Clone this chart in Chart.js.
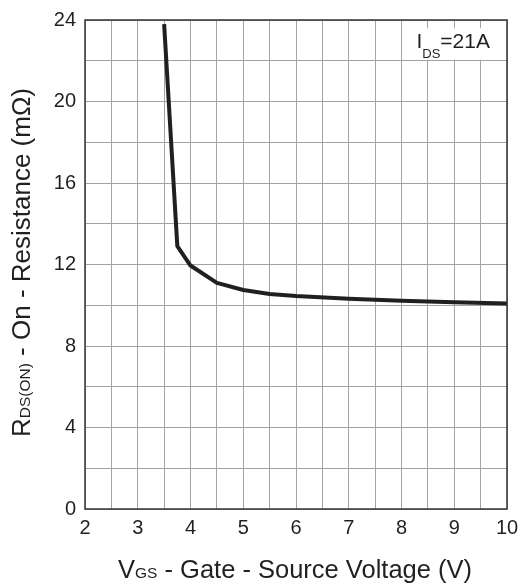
<!DOCTYPE html>
<html><head><meta charset="utf-8">
<script src="https://cdn.jsdelivr.net/npm/chart.js@4.4.1/dist/chart.umd.min.js"></script>
<style>html,body{margin:0;padding:0;background:#fff}#wrap{width:521px;height:585px}</style>
</head><body><div id="wrap"><canvas id="c" width="521" height="585"></canvas></div>
<script>
// Data
const vgs = [3.5, 3.75, 4, 4.5, 5, 5.5, 6, 7, 8, 9, 10];
const rdson = [23.8, 12.9, 11.95, 11.1, 10.75, 10.55, 10.45, 10.32, 10.22, 10.15, 10.08];
const xLabelValues = [2, 3, 4, 5, 6, 7, 8, 9, 10];
const yLabelValues = [0, 4, 8, 12, 16, 20, 24];
const xTitleParts = [['V', 'main'], ['GS', 'sub'], [' - Gate - Source Voltage (V)', 'main']];
const yTitleParts = [['R', 'main'], ['DS(ON)', 'sub'], [' - On - Resistance (m\u03A9)', 'main']];
const noteParts = [['I', 'main'], ['DS', 'sub'], ['=21A', 'main']];

const FONT = '"Liberation Sans", Arial, sans-serif';
const INK = '#231f20';

function drawParts(ctx, parts, cx, baseline, mainSize, subSize, subShift) {
  let total = 0;
  const w = parts.map(([t, k]) => {
    ctx.font = (k === 'main' ? mainSize : subSize) + 'px ' + FONT;
    const m = ctx.measureText(t).width; total += m; return m;
  });
  let x = cx - total / 2;
  parts.forEach(([t, k], i) => {
    ctx.font = (k === 'main' ? mainSize : subSize) + 'px ' + FONT;
    ctx.fillText(t, x, baseline + (k === 'sub' ? subShift : 0));
    x += w[i];
  });
}

const deco = {
  id: 'deco',
  beforeDatasetsDraw(chart) {
    const ctx = chart.ctx, xs = chart.scales.x, ys = chart.scales.y;
    const x0 = xs.getPixelForValue(8.2), x1 = xs.getPixelForValue(9.85);
    const y0 = ys.getPixelForValue(23.6), y1 = ys.getPixelForValue(22.05);
    ctx.save();
    ctx.fillStyle = '#fff';
    ctx.fillRect(x0, y0, x1 - x0, y1 - y0);
    ctx.restore();
  },
  afterDraw(chart) {
    const ctx = chart.ctx, a = chart.chartArea;
    ctx.save();
    ctx.strokeStyle = '#333';
    ctx.lineWidth = 1.5;
    ctx.strokeRect(a.left, a.top, a.right - a.left, a.bottom - a.top);
    ctx.fillStyle = INK;
    ctx.textBaseline = 'alphabetic';
    ctx.textAlign = 'left';
    drawParts(ctx, xTitleParts, (a.left + a.right) / 2 - 1, 578, 25.5, 15.5, 0);
    ctx.save();
    ctx.translate(30, (a.top + a.bottom) / 2 - 2);
    ctx.rotate(-Math.PI / 2);
    drawParts(ctx, yTitleParts, 0, 0, 26, 15.5, 0);
    ctx.restore();
    const xs = chart.scales.x, ys = chart.scales.y;
    drawParts(ctx, noteParts, xs.getPixelForValue(8.98), ys.getPixelForValue(22.65), 21, 13, 10);
    ctx.restore();
  }
};

new Chart(document.getElementById('c'), {
  type: 'scatter',
  data: {
    datasets: [{
      data: vgs.map((v, i) => ({ x: v, y: rdson[i] })),
      showLine: true,
      borderColor: INK,
      borderWidth: 4,
      pointRadius: 0,
      tension: 0,
      borderJoinStyle: 'round',
      borderCapStyle: 'butt'
    }]
  },
  options: {
    responsive: false,
    animation: false,
    devicePixelRatio: 1,
    layout: { padding: { top: 20, right: 14, left: 0, bottom: 0 } },
    plugins: { legend: { display: false }, tooltip: { enabled: false } },
    scales: {
      x: {
        type: 'linear', min: 2, max: 10,
        afterFit(s) { s.height = 76; s.paddingLeft = 0; s.paddingRight = 0; },
        afterBuildTicks(s) {
          const t = []; for (let v = 2; v <= 10.001; v += 0.5) t.push({ value: +v.toFixed(1) }); s.ticks = t;
        },
        ticks: {
          autoSkip: false, maxRotation: 0, padding: 7, color: INK,
          font: { size: 20, family: FONT },
          callback: v => xLabelValues.includes(v) ? String(v) : ''
        },
        grid: { color: '#a3a3a3', lineWidth: 1, drawTicks: false },
        border: { display: false }
      },
      y: {
        type: 'linear', min: 0, max: 24,
        afterFit(s) { s.width = 85; s.paddingTop = 0; s.paddingBottom = 0; },
        afterBuildTicks(s) {
          const t = []; for (let v = 0; v <= 24; v += 2) t.push({ value: v }); s.ticks = t;
        },
        ticks: {
          autoSkip: false, padding: 9, color: INK,
          font: { size: 20, family: FONT },
          callback: v => yLabelValues.includes(v) ? String(v) : ''
        },
        grid: { color: '#a3a3a3', lineWidth: 1, drawTicks: false },
        border: { display: false }
      }
    }
  },
  plugins: [deco]
});
</script>
</body></html>
